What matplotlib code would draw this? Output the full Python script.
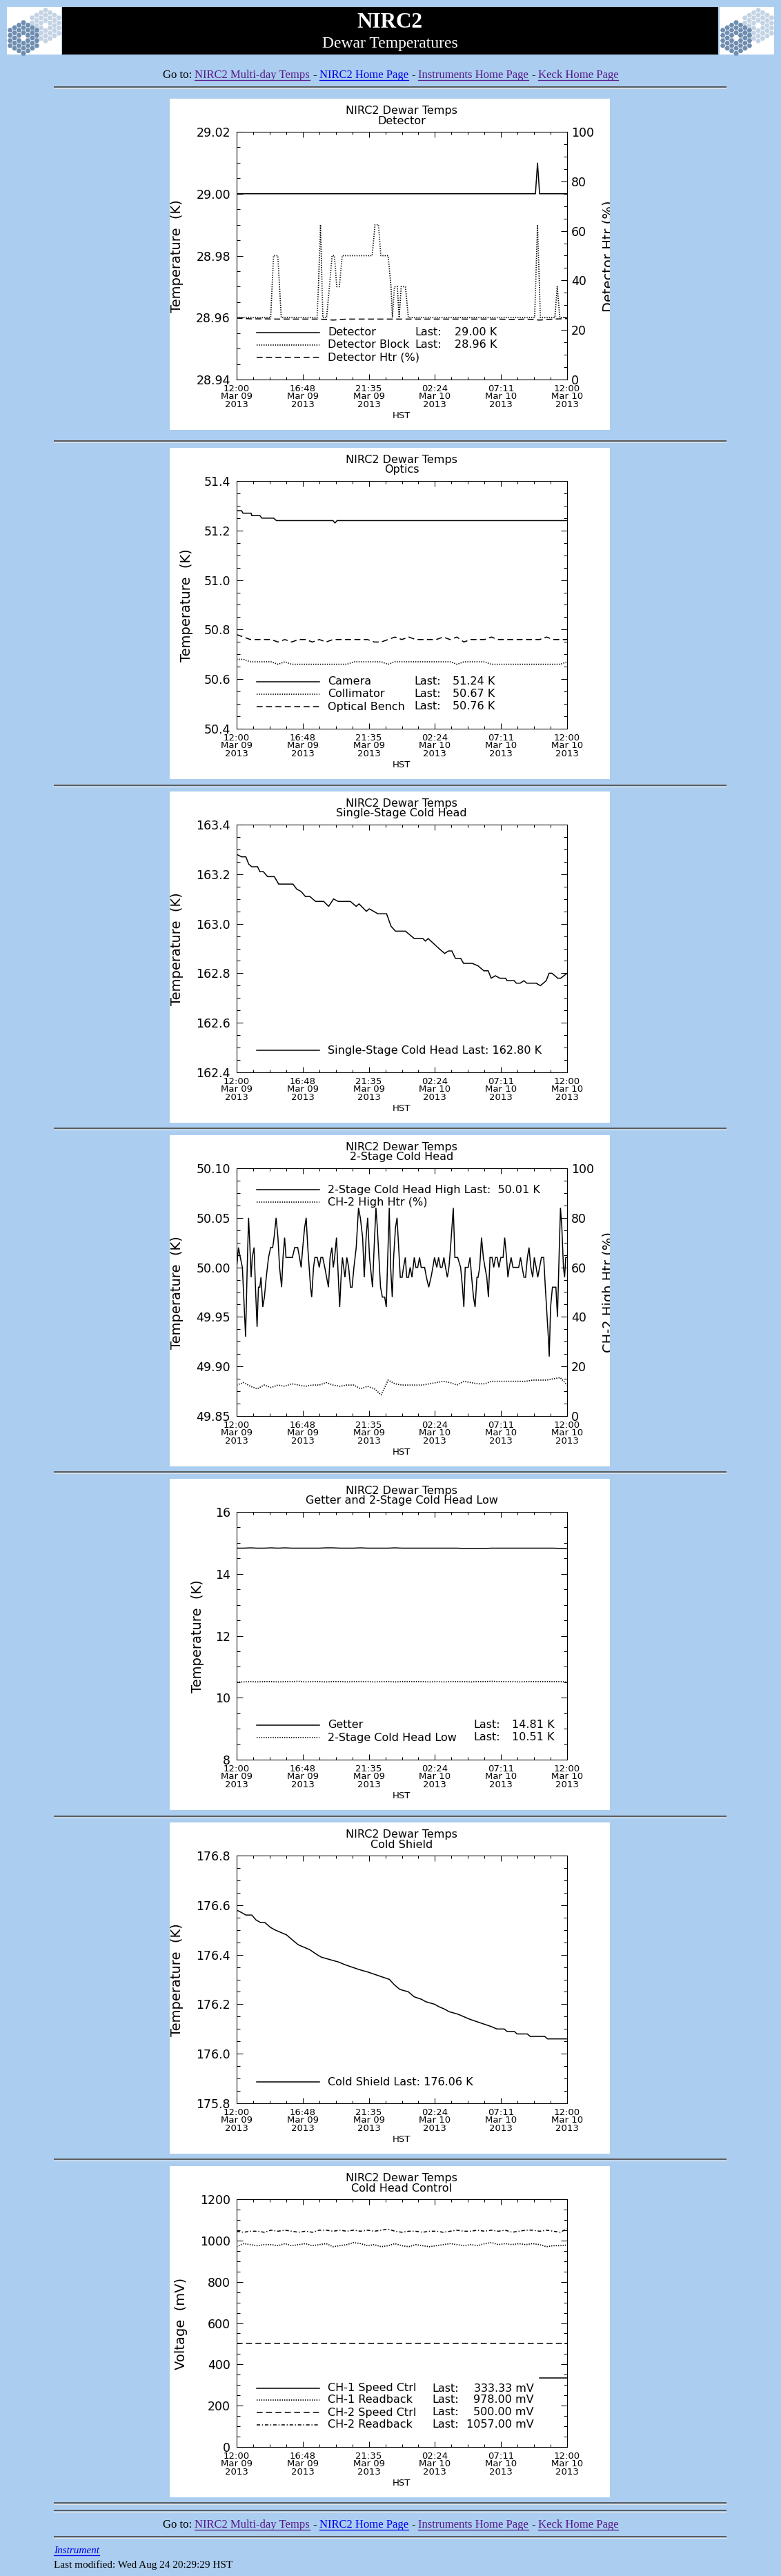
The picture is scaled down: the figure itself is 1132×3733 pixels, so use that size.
"""
NIRC2 dewar temperatures web page: seven IDL-style strip charts.
"""
import numpy as np
import matplotlib
matplotlib.use('Agg')
import matplotlib.pyplot as plt
from matplotlib.patches import Rectangle, RegularPolygon
from matplotlib.ticker import FixedLocator, MultipleLocator, FormatStrFormatter
from matplotlib.transforms import Bbox, TransformedBbox

plt.rcParams.update({
    'font.family': 'DejaVu Sans',
    'lines.scale_dashes': False,
    'axes.linewidth': 0.75,
})

# ── Data ──────────────────────────────────────────────────────────────────────
# time axis: hours after 12:00 HST, Mar 09 2013
tick_hours = [0.0, 4.8, 9.6, 14.4, 19.2, 24.0]
tick_times = ['12:00', '16:48', '21:35', '02:24', '07:11', '12:00']
tick_dates = ['Mar 09', 'Mar 09', 'Mar 09', 'Mar 10', 'Mar 10', 'Mar 10']
tick_year = '2013'

hourly = np.arange(0, 24.5, 1.0)        # hourly sample clock
half_hourly = np.arange(0, 24.25, 0.5)  # 30 min sample clock

# Detector
det_hours = [0.0, 21.70, 21.85, 22.00, 24.0]
det_temp = [29.00, 29.00, 29.01, 29.00, 29.00]
block_hours = [0.0, 2.47, 2.68, 2.99, 3.24, 5.84, 5.94, 6.09, 6.26, 6.53,
               6.74, 6.93, 7.10, 7.27, 7.46, 7.67, 9.84, 10.05, 10.30, 10.47,
               11.00, 11.21, 11.31, 11.46, 11.67, 11.80, 11.95, 12.26, 12.47,
               21.64, 21.85, 22.06, 23.11, 23.28, 23.47, 24.0]
block_temp = [28.96, 28.96, 28.98, 28.98, 28.96, 28.96, 28.97, 28.99, 28.96, 28.96,
              28.97, 28.98, 28.98, 28.97, 28.97, 28.98, 28.98, 28.99, 28.99, 28.98,
              28.98, 28.97, 28.96, 28.97, 28.97, 28.96, 28.97, 28.97, 28.96,
              28.96, 28.99, 28.96, 28.96, 28.97, 28.96, 28.96]
det_htr = [24.8, 24.5, 24.5, 24.4, 24.4, 24.4, 24.4, 24.0, 24.4, 24.4, 24.4, 24.4,
           24.4, 24.4, 24.4, 24.4, 24.4, 24.4, 24.4, 24.4, 24.2, 24.4, 24.0, 24.4, 24.6]

# Optics
cam_hours = [0.0, 0.36, 0.46, 1.05, 1.10, 1.69, 1.83, 2.68, 2.89, 7.00, 7.14, 7.29, 24.0]
cam_temp = [51.28, 51.28, 51.27, 51.27, 51.26, 51.26, 51.25, 51.25, 51.24, 51.24,
            51.23, 51.24, 51.24]
coll_temp = [50.68, 50.68, 50.67, 50.67, 50.67, 50.67, 50.66, 50.67, 50.66, 50.66,
             50.66, 50.66, 50.66, 50.66, 50.66, 50.66, 50.66, 50.67, 50.67, 50.67,
             50.67, 50.67, 50.66, 50.67, 50.67, 50.67, 50.67, 50.67, 50.67, 50.67,
             50.67, 50.67, 50.66, 50.67, 50.67, 50.67, 50.67, 50.66, 50.66, 50.66,
             50.66, 50.66, 50.66, 50.66, 50.66, 50.66, 50.66, 50.66, 50.67]
bench_temp = [50.78, 50.77, 50.76, 50.76, 50.76, 50.76, 50.75, 50.76, 50.75, 50.76,
              50.76, 50.75, 50.76, 50.75, 50.76, 50.76, 50.76, 50.76, 50.76, 50.76,
              50.75, 50.75, 50.76, 50.77, 50.76, 50.77, 50.76, 50.76, 50.76, 50.76,
              50.77, 50.76, 50.77, 50.75, 50.76, 50.76, 50.76, 50.77, 50.76, 50.76,
              50.76, 50.76, 50.76, 50.76, 50.76, 50.77, 50.76, 50.76, 50.76]

# Single-stage cold head
ss_hours = [0.0, 0.36, 0.67, 0.88, 1.10, 1.52, 1.69, 1.94, 2.25, 2.74,
            3.05, 4.09, 4.36, 4.68, 4.99, 5.31, 5.73, 6.32, 6.68, 7.04,
            7.37, 8.26, 8.68, 8.89, 9.42, 9.63, 9.95, 10.26, 10.89, 11.21,
            11.53, 12.26, 12.90, 13.53, 13.70, 13.91, 14.69, 15.11, 15.38, 15.63,
            15.89, 16.27, 16.48, 17.11, 17.53, 17.95, 18.27, 18.48, 18.79, 19.11,
            19.53, 19.64, 20.16, 20.31, 20.59, 20.86, 21.07, 21.53, 21.74, 22.06,
            22.48, 22.69, 22.90, 23.32, 23.53, 24.0]
ss_temp = [163.28, 163.27, 163.27, 163.24, 163.23, 163.23, 163.21, 163.21, 163.19, 163.19,
           163.16, 163.16, 163.14, 163.13, 163.11, 163.11, 163.09, 163.09, 163.07, 163.10,
           163.09, 163.09, 163.07, 163.08, 163.05, 163.06, 163.05, 163.04, 163.04, 162.99,
           162.97, 162.97, 162.94, 162.94, 162.93, 162.94, 162.90, 162.88, 162.89, 162.89,
           162.86, 162.86, 162.84, 162.84, 162.83, 162.81, 162.81, 162.78, 162.79, 162.78,
           162.78, 162.77, 162.77, 162.76, 162.76, 162.77, 162.76, 162.76, 162.76, 162.75,
           162.77, 162.80, 162.80, 162.78, 162.78, 162.80]

# 2-stage cold head (high): minutes after 12:00
ch2_minutes = [0, 8, 16, 25, 33, 39, 46, 52, 58, 63, 68, 76, 82, 89, 95, 101, 106, 114,
               121, 129, 139, 148, 157, 163, 172, 180, 187, 196, 202, 209, 215, 225, 243,
               253, 266, 274, 281, 288, 296, 303, 310, 316, 322, 327, 335, 341, 351, 360,
               367, 375, 384, 392, 400, 407, 415, 421, 427, 435, 441, 449, 455, 461, 472,
               480, 488, 496, 503, 511, 521, 531, 539, 549, 556, 564, 571, 579, 592, 599,
               607, 613, 620, 627, 635, 645, 652, 657, 665, 671, 678, 684, 692, 699, 706,
               713, 721, 727, 735, 741, 749, 756, 764, 774, 781, 789, 797, 804, 812, 819,
               827, 837, 847, 855, 862, 872, 880, 888, 895, 903, 910, 918, 925, 932, 938,
               944, 951, 963, 976, 984, 990, 996, 1009, 1017, 1024, 1032, 1039, 1047, 1052,
               1059, 1067, 1075, 1082, 1090, 1097, 1104, 1113, 1120, 1128, 1135, 1143, 1151,
               1161, 1168, 1176, 1182, 1188, 1196, 1204, 1211, 1229, 1237, 1244, 1252, 1259,
               1267, 1274, 1282, 1290, 1297, 1305, 1312, 1320, 1328, 1338, 1345, 1353, 1358,
               1362, 1368, 1376, 1383, 1391, 1398, 1406, 1411, 1417, 1424, 1429, 1434, 1440]
ch2_temp = [50.00, 50.02, 50.01, 50.00, 49.96, 49.93, 50.00, 50.05, 50.02, 49.99, 50.01,
            50.02, 49.98, 49.94, 49.98, 49.98, 49.99, 49.96, 49.97, 49.99, 50.01, 50.02,
            50.02, 50.03, 50.05, 50.03, 50.00, 49.98, 50.01, 50.03, 50.01, 50.01, 50.01,
            50.02, 50.02, 50.01, 50.00, 50.02, 50.04, 50.05, 50.02, 50.00, 49.98, 49.97,
            50.00, 50.01, 50.01, 50.00, 50.01, 50.01, 50.00, 49.99, 49.98, 50.01, 50.02,
            50.00, 50.01, 50.03, 50.00, 49.96, 49.99, 50.01, 49.99, 50.01, 50.00, 49.98,
            49.98, 50.00, 50.02, 50.06, 50.05, 50.03, 49.99, 50.03, 50.05, 50.01, 49.98,
            50.02, 50.06, 50.04, 50.01, 49.98, 49.97, 49.97, 49.96, 50.00, 50.06, 50.00,
            49.97, 50.01, 50.04, 50.05, 50.02, 49.99, 49.99, 50.00, 50.01, 49.99, 49.99,
            50.00, 49.99, 50.01, 50.00, 50.00, 50.01, 50.00, 50.00, 50.00, 49.99, 49.98,
            49.99, 50.00, 50.01, 50.00, 50.01, 50.00, 50.00, 50.01, 50.00, 49.99, 50.00,
            50.02, 50.04, 50.06, 50.01, 50.01, 50.00, 49.98, 49.96, 50.00, 50.00, 50.01,
            49.99, 49.97, 49.96, 49.99, 49.99, 50.00, 50.03, 50.01, 50.00, 49.99, 49.97,
            50.01, 50.01, 50.00, 50.01, 50.01, 50.00, 50.01, 50.01, 50.03, 50.01, 49.99,
            50.00, 50.01, 50.00, 50.00, 50.00, 50.01, 50.00, 49.99, 49.99, 50.01, 50.02,
            50.00, 49.99, 50.01, 50.00, 49.99, 50.00, 50.01, 50.01, 49.98, 49.95, 49.93,
            49.91, 49.96, 49.98, 49.98, 49.98, 49.95, 50.02, 50.06, 50.04, 50.00, 49.99,
            50.01, 50.01]
ch2_htr = [12.5, 13.5, 12.0, 11.0, 12.5, 11.5, 12.5, 12.0, 13.0, 12.5,
           12.0, 12.5, 12.5, 13.5, 12.5, 12.0, 12.5, 12.5, 11.0, 12.0,
           11.0, 8.5, 14.5, 13.0, 12.5, 12.5, 12.5, 12.5, 13.0, 13.5,
           14.0, 13.5, 12.5, 14.0, 13.5, 13.0, 13.0, 14.0, 14.0, 14.0,
           14.0, 14.0, 14.0, 14.5, 14.5, 14.5, 15.0, 15.5, 12.5]

# Getter and 2-stage cold head low
getter_temp = [14.83, 14.83, 14.84, 14.83, 14.83, 14.84, 14.83, 14.84, 14.83, 14.83,
               14.83, 14.83, 14.83, 14.84, 14.84, 14.83, 14.83, 14.83, 14.84, 14.83,
               14.83, 14.83, 14.83, 14.84, 14.83, 14.83, 14.83, 14.83, 14.83, 14.83,
               14.83, 14.83, 14.83, 14.82, 14.82, 14.82, 14.82, 14.83, 14.83, 14.83,
               14.83, 14.83, 14.83, 14.83, 14.83, 14.83, 14.83, 14.82, 14.81]
chlow_temp = [10.51, 10.51, 10.52, 10.51, 10.52, 10.52, 10.51, 10.52, 10.52, 10.53,
              10.51, 10.52, 10.52, 10.51, 10.52, 10.52, 10.51, 10.52, 10.52, 10.52,
              10.51, 10.52, 10.52, 10.51, 10.52, 10.52, 10.52, 10.52, 10.51, 10.52,
              10.51, 10.52, 10.52, 10.52, 10.51, 10.52, 10.52, 10.53, 10.52, 10.52,
              10.52, 10.51, 10.52, 10.52, 10.52, 10.52, 10.52, 10.52, 10.51]

# Cold shield
shield_hours = [0.0, 0.36, 0.67, 1.10, 1.41, 1.73, 2.04, 2.46, 2.78, 3.20,
                3.62, 4.04, 4.47, 4.89, 5.31, 5.84, 6.15, 6.78, 7.42, 7.84,
                8.36, 8.89, 9.52, 10.05, 10.57, 11.10, 11.42, 11.84, 12.47, 12.89,
                13.42, 13.74, 14.37, 14.69, 15.11, 15.42, 16.06, 16.48, 16.90, 17.42,
                17.95, 18.48, 18.90, 19.43, 19.64, 20.16, 20.37, 21.11, 21.32, 22.37,
                22.58, 24.0]
shield_temp = [176.58, 176.57, 176.56, 176.56, 176.54, 176.53, 176.53, 176.51, 176.50, 176.49,
               176.48, 176.46, 176.44, 176.43, 176.42, 176.40, 176.39, 176.38, 176.37, 176.36,
               176.35, 176.34, 176.33, 176.32, 176.31, 176.30, 176.28, 176.26, 176.25, 176.23,
               176.22, 176.21, 176.20, 176.19, 176.18, 176.17, 176.16, 176.15, 176.14, 176.13,
               176.12, 176.11, 176.10, 176.10, 176.09, 176.09, 176.08, 176.08, 176.07, 176.07,
               176.06, 176.06]

# Cold head control (mV)
ch1_speed_hours = [22.0, 24.0]
ch1_speed = [333.33, 333.33]
ch1_readback = [970, 985, 980, 975, 980, 980, 975, 985, 975, 980,
                985, 975, 980, 985, 970, 975, 980, 990, 985, 975,
                980, 970, 975, 985, 975, 970, 980, 975, 970, 975,
                980, 985, 980, 975, 980, 975, 985, 990, 980, 985,
                980, 985, 980, 985, 980, 970, 975, 975, 978]
ch2_speed_hours = [0.0, 24.0]
ch2_speed = [500.0, 500.0]
ch2_readback = [1045, 1040, 1045, 1045, 1040, 1050, 1045, 1050, 1045, 1040,
                1045, 1040, 1050, 1050, 1045, 1050, 1045, 1050, 1045, 1050,
                1045, 1050, 1055, 1045, 1040, 1045, 1045, 1040, 1045, 1045,
                1040, 1045, 1050, 1045, 1045, 1050, 1045, 1050, 1045, 1050,
                1040, 1045, 1050, 1050, 1045, 1050, 1045, 1040, 1057]

ch2_hours = np.array(ch2_minutes) / 60.0

# ── Page ──────────────────────────────────────────────────────────────────────
W, H = 1132, 3733
BG = '#abcdef'
VISITED = '#551a8b'
LINK = '#0000ee'
SERIF = 'Liberation Serif'

LS = {'-': '-', ':': (0, (1.0, 1.4)), '--': (0, (6.2, 3.6)),
      '-.': (0, (3.6, 2.0, 1.0, 2.0))}
LW = {'-': 1.1, ':': 1.25, '--': 1.1, '-.': 1.1}

fig = plt.figure(figsize=(W / 100, H / 100), dpi=100)
fig.patch.set_facecolor(BG)
page = fig.add_axes([0, 0, 1, 1])
page.set_xlim(0, W)
page.set_ylim(H, 0)
page.axis('off')
renderer = fig.canvas.get_renderer()


def draw_logo(x0, y0):
    page.add_patch(Rectangle((x0, y0), 79, 69, fc='white', ec='none'))
    clip = Rectangle((x0, y0), 79, 69, transform=page.transData)
    s = 4.3
    for cx, cy, col in [(x0 + 56, y0 + 27, '#c3d3e4'), (x0 + 24, y0 + 45, '#6e8db0')]:
        for q in range(-3, 4):
            for r in range(-3, 4):
                if abs(q + r) > 3 or (q == 0 and r == 0):
                    continue
                hx = cx + s * 1.5 * q
                hy = cy + s * np.sqrt(3) * (r + q / 2)
                hexa = RegularPolygon((hx, hy), 6, radius=s * 0.88,
                                      orientation=np.pi / 6, fc=col, ec='none')
                hexa.set_clip_path(clip)
                page.add_patch(hexa)


def hr(y):
    page.plot([78, 1053], [y, y], color='#5a5a5a', lw=1.4, solid_capstyle='butt')
    page.plot([78, 1053], [y + 1.5, y + 1.5], color='#e4e4e4', lw=0.8,
              solid_capstyle='butt')


def text_width(t):
    return t.get_window_extent(renderer).width


def goto_line(y_base):
    fs = 12
    gap = 0.25 * fs / 0.72
    pieces = [('Go to:', 'black', False), ('NIRC2 Multi-day Temps', VISITED, True),
              ('-', 'black', False), ('NIRC2 Home Page', LINK, True),
              ('-', 'black', False), ('Instruments Home Page', VISITED, True),
              ('-', 'black', False), ('Keck Home Page', VISITED, True)]
    texts = [page.text(0, y_base, s, color=c, fontsize=fs, family=SERIF,
                       va='baseline', ha='left') for s, c, _ in pieces]
    widths = [text_width(t) for t in texts]
    total = sum(widths) + gap * (len(pieces) - 1)
    x = 566 - total / 2
    for t, w, (s, c, ul) in zip(texts, widths, pieces):
        t.set_x(x)
        if ul:
            page.plot([x, x + w], [y_base + 2.5, y_base + 2.5], color=c, lw=0.9)
        x += w + gap


# header
draw_logo(10, 10)
draw_logo(1043, 10)
page.add_patch(Rectangle((90, 10), 951, 69, fc='black', ec='none'))
page.text(565, 33, 'NIRC2', color='white', fontsize=22.5, fontweight='bold',
          family=SERIF, ha='center', va='center')
page.text(565, 63, 'Dewar Temperatures', color='white', fontsize=17,
          family=SERIF, ha='center', va='center')
goto_line(113)

# ── Panels ────────────────────────────────────────────────────────────────────
panel_tops = [143, 649, 1147, 1645, 2143, 2641, 3139]
for y in [126, 639, 1138, 1635, 2133, 2632, 3129, 3627, 3638, 3676]:
    hr(y)

panels = [
    dict(sub='Detector', ylim=(28.94, 29.02), major=0.02, fmt='%.2f',
         ylabel='Temperature  (K)', ylab_x=256, right='Detector Htr (%)',
         series=[(det_hours, det_temp, '-', False, 'Detector', 'K'),
                 (block_hours, block_temp, ':', False, 'Detector Block', 'K'),
                 (hourly, det_htr, '--', True, 'Detector Htr (%)', None)],
         legend=dict(rows=[339, 357, 375], last_x=601, val_x=659)),
    dict(sub='Optics', ylim=(50.4, 51.4), major=0.2, fmt='%.1f',
         ylabel='Temperature  (K)', ylab_x=270, right=None,
         series=[(cam_hours, cam_temp, '-', False, 'Camera', 'K'),
                 (half_hourly, coll_temp, ':', False, 'Collimator', 'K'),
                 (half_hourly, bench_temp, '--', False, 'Optical Bench', 'K')],
         legend=dict(rows=[339, 357, 375], last_x=600, val_x=656)),
    dict(sub='Single-Stage Cold Head', ylim=(162.4, 163.4), major=0.2, fmt='%.1f',
         ylabel='Temperature  (K)', ylab_x=256, right=None,
         series=[(ss_hours, ss_temp, '-', False, 'Single-Stage Cold Head', 'K')],
         legend=dict(rows=[375], sep=' Last: ')),
    dict(sub='2-Stage Cold Head', ylim=(49.85, 50.10), major=0.05, fmt='%.2f',
         ylabel='Temperature  (K)', ylab_x=256, right='CH-2 High Htr (%)',
         series=[(ch2_hours, ch2_temp, '-', False, '2-Stage Cold Head High', 'K'),
                 (half_hourly, ch2_htr, ':', True, 'CH-2 High Htr (%)', None)],
         legend=dict(rows=[79, 97], sep=' Last:  ')),
    dict(sub='Getter and 2-Stage Cold Head Low', ylim=(8, 16), major=2, fmt='%d',
         ylabel='Temperature  (K)', ylab_x=286, right=None,
         series=[(half_hourly, getter_temp, '-', False, 'Getter', 'K'),
                 (half_hourly, chlow_temp, ':', False, '2-Stage Cold Head Low', 'K')],
         legend=dict(rows=[357, 375], last_x=686, val_x=742)),
    dict(sub='Cold Shield', ylim=(175.8, 176.8), major=0.2, fmt='%.1f',
         ylabel='Temperature  (K)', ylab_x=256, right=None,
         series=[(shield_hours, shield_temp, '-', False, 'Cold Shield', 'K')],
         legend=dict(rows=[376], sep=' Last: ')),
    dict(sub='Cold Head Control', ylim=(0, 1200), major=200, fmt='%d',
         ylabel='Voltage  (mV)', ylab_x=263, right=None,
         series=[(ch1_speed_hours, ch1_speed, '-', False, 'CH-1 Speed Ctrl', 'mV'),
                 (half_hourly, ch1_readback, ':', False, 'CH-1 Readback', 'mV'),
                 (ch2_speed_hours, ch2_speed, '--', False, 'CH-2 Speed Ctrl', 'mV'),
                 (half_hourly, ch2_readback, '-.', False, 'CH-2 Readback', 'mV')],
         legend=dict(rows=[322, 339, 357, 375], last_x=626, val_x=774, val_ha='right')),
]

PL, PR = 343, 822
for top, p in zip(panel_tops, panels):
    page.add_patch(Rectangle((246, top), 638, 480, fc='white', ec='none'))
    pt, pb = top + 48, top + 407
    ax = fig.add_axes([PL / W, 1 - pb / H, (PR - PL) / W, (pb - pt) / H])
    ax.patch.set_visible(False)   # white box lives on the page, legend shows through
    ax.set_xlim(0, 24)
    ax.set_ylim(*p['ylim'])
    ax.xaxis.set_major_locator(FixedLocator(tick_hours))
    ax.xaxis.set_minor_locator(MultipleLocator(1.2))
    ax.set_xticklabels([f'{t}\n{d}\n{tick_year}' for t, d in zip(tick_times, tick_dates)])
    ax.yaxis.set_major_locator(MultipleLocator(p['major']))
    ax.yaxis.set_minor_locator(MultipleLocator(p['major'] / 4))
    ax.yaxis.set_major_formatter(FormatStrFormatter(p['fmt']))
    ax.tick_params(which='both', direction='in', top=True,
                   right=p['right'] is None, width=0.75, color='black')
    ax.tick_params(axis='x', which='major', length=5.6, pad=5.0, labelsize=9.5)
    ax.tick_params(axis='x', which='minor', length=2.9)
    ax.tick_params(axis='y', which='major', length=6.5, pad=6.5, labelsize=12.5)
    ax.tick_params(axis='y', which='minor', length=3.3)
    for lab in ax.get_xticklabels():
        lab.set_linespacing(0.85)

    ax2 = None
    if p['right'] is not None:
        ax2 = ax.twinx()
        ax2.patch.set_visible(False)
        ax2.set_ylim(0, 100)
        ax2.yaxis.set_major_locator(MultipleLocator(20))
        ax2.yaxis.set_minor_locator(MultipleLocator(5))
        ax2.tick_params(which='both', direction='in', width=0.75, color='black')
        ax2.tick_params(axis='y', which='major', length=6.5, pad=4.3, labelsize=12.5)
        ax2.tick_params(axis='y', which='minor', length=3.3)
        lab = page.text(882, pt + 180, p['right'], rotation=90, fontsize=14,
                        ha='center', va='center')
        lab.set_clip_box(TransformedBbox(Bbox([[246, top], [884, top + 480]]),
                                         page.transData))
        lab.set_clip_on(True)

    for xs, ys, st, on_right, name, unit in p['series']:
        target = ax2 if on_right else ax
        target.plot(xs, ys, color='black', ls=LS[st], lw=LW[st],
                    solid_joinstyle='miter', clip_on=True)

    # titles and axis labels
    page.text(582, top + 18, 'NIRC2 Dewar Temps', fontsize=11.5, ha='center', va='center')
    page.text(582, top + 32, p['sub'], fontsize=11.5, ha='center', va='center')
    page.text(582, top + 460, 'HST', fontsize=9.5, ha='center', va='center')
    page.text(p['ylab_x'], pt + 180, p['ylabel'], rotation=90, fontsize=14,
              ha='center', va='center')

    # legend
    lg = p['legend']
    for row, (xs, ys, st, on_right, name, unit) in zip(lg['rows'], p['series']):
        y = top + row
        page.plot([372, 463], [y, y], color='black', ls=LS[st], lw=LW[st])
        if unit is None:
            page.text(475, y, name, fontsize=11.5, va='center')
        elif 'sep' in lg:
            page.text(475, y, f'{name}{lg["sep"]}{ys[-1]:.2f} {unit}',
                      fontsize=11.5, va='center')
        else:
            page.text(475, y, name, fontsize=11.5, va='center')
            page.text(lg['last_x'], y, 'Last:', fontsize=11.5, va='center')
            page.text(lg['val_x'], y, f'{ys[-1]:.2f} {unit}', fontsize=11.5,
                      va='center', ha=lg.get('val_ha', 'left'))

# ── Footer ────────────────────────────────────────────────────────────────────
goto_line(3663)
inst = page.text(78, 3700, 'Instrument', color=LINK, fontsize=11, family=SERIF,
                 style='italic', va='baseline')
page.plot([78, 78 + text_width(inst)], [3702.5, 3702.5], color=LINK, lw=0.9)
page.text(78, 3721, 'Last modified: Wed Aug 24 20:29:29 HST', fontsize=11,
          family=SERIF, va='baseline')

fig.savefig('out.png', dpi=100, facecolor=BG)
